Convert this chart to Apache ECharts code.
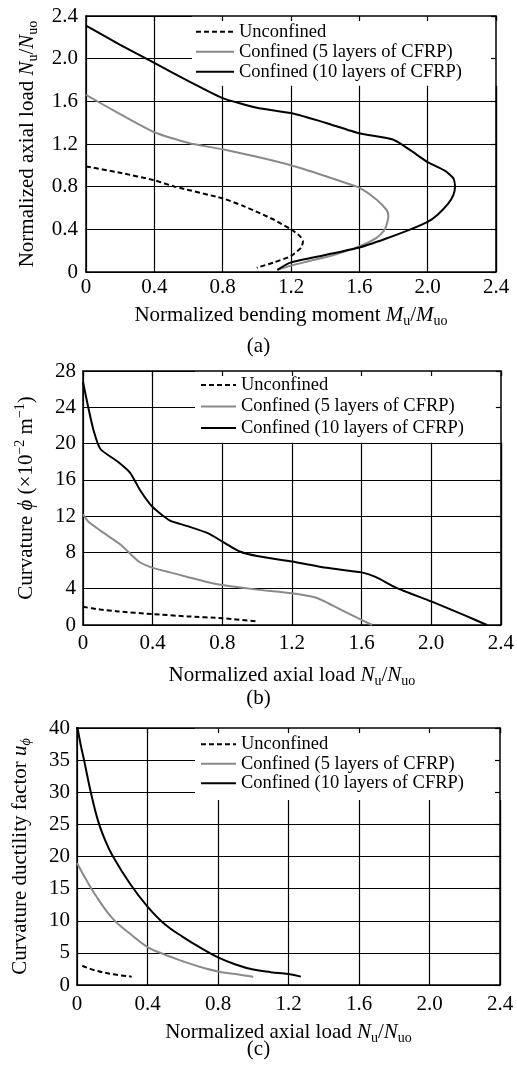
<!DOCTYPE html>
<html>
<head>
<meta charset="utf-8">
<script src="https://cdn.jsdelivr.net/npm/echarts@6/dist/echarts.min.js"></script>
<style>
html,body{margin:0;padding:0;background:#fff;}
#chart{width:517px;height:1073px;}
</style>
</head>
<body>
<div id="chart"></div>
<script>
// ---------- data ----------
const seriesNames = ['Unconfined', 'Confined (5 layers of CFRP)', 'Confined (10 layers of CFRP)'];

// (a) interaction: [M/Muo, N/Nuo]
const unconfinedA = [[0,0.99],[0.2,0.93],[0.4,0.86],[0.52,0.8],[0.8,0.69],[0.92,0.62],[1.02,0.55],[1.1,0.49],[1.2,0.4],[1.25,0.34],[1.27,0.29],[1.26,0.23],[1.2,0.15],[1.1,0.09],[1.0,0.04]];
const conf5A = [[0,1.66],[0.2,1.48],[0.4,1.31],[0.6,1.21],[0.8,1.15],[1.0,1.08],[1.2,1.0],[1.4,0.9],[1.53,0.83],[1.6,0.79],[1.7,0.68],[1.76,0.58],[1.77,0.52],[1.75,0.4],[1.7,0.32],[1.6,0.24],[1.45,0.16],[1.3,0.1],[1.2,0.06],[1.12,0.02]];
const conf10A = [[0,2.31],[0.2,2.13],[0.4,1.96],[0.6,1.79],[0.8,1.63],[1.0,1.54],[1.2,1.49],[1.4,1.4],[1.6,1.3],[1.8,1.24],[1.9,1.14],[2.0,1.03],[2.1,0.95],[2.15,0.88],[2.16,0.8],[2.15,0.72],[2.12,0.64],[2.06,0.54],[2.0,0.47],[1.9,0.4],[1.75,0.31],[1.6,0.23],[1.4,0.16],[1.2,0.09],[1.12,0.02]];

// (b) curvature: [N/Nuo, phi]
const unconfinedB = [[0,2.0],[0.1,1.7],[0.2,1.5],[0.4,1.2],[0.6,0.95],[0.8,0.75],[1.0,0.4]];
const conf5B = [[0,12.2],[0.03,11.4],[0.1,10.4],[0.22,8.8],[0.32,7.0],[0.4,6.3],[0.5,5.8],[0.6,5.3],[0.7,4.8],[0.8,4.4],[1.0,3.9],[1.2,3.5],[1.34,3.0],[1.5,1.5],[1.66,0]];
const conf10B = [[0,26.8],[0.03,24],[0.06,21.5],[0.1,19.4],[0.2,18],[0.27,16.8],[0.33,14.8],[0.4,13.0],[0.5,11.5],[0.6,10.9],[0.72,10.1],[0.8,9.2],[0.9,8.1],[1.0,7.6],[1.2,7.0],[1.4,6.3],[1.6,5.8],[1.68,5.3],[1.8,4.1],[2.0,2.6],[2.2,1.0],[2.32,0]];

// (c) ductility: [N/Nuo, u_phi]
const unconfinedC = [[0.03,3.0],[0.1,2.3],[0.2,1.7],[0.31,1.3]];
const conf5C = [[0,19],[0.05,16.5],[0.1,14.2],[0.2,10.4],[0.3,8],[0.4,5.9],[0.5,4.7],[0.6,3.7],[0.7,2.8],[0.8,2.1],[0.9,1.7],[1.0,1.3]];
const conf10C = [[0,40.5],[0.02,37.5],[0.04,35],[0.08,29.8],[0.12,25.5],[0.16,22.5],[0.2,20.2],[0.3,15.8],[0.4,12.2],[0.5,9.4],[0.6,7.5],[0.7,5.8],[0.8,4.3],[0.9,3.2],[1.0,2.4],[1.1,2.0],[1.2,1.7],[1.27,1.3]];

// tick labels
const ratioTicks = ['0','0.4','0.8','1.2','1.6','2.0','2.4'];
const phiTicks = ['0','4','8','12','16','20','24','28'];
const ductTicks = ['0','5','10','15','20','25','30','35','40'];

// ---------- styles ----------
const FONT = 'Liberation Serif';
const GRAY = '#8a8a8a';
const rich = {
  t: {fontSize: 21, fontFamily: FONT, color: '#000', lineHeight: 26},
  i: {fontSize: 21, fontFamily: FONT, color: '#000', fontStyle: 'italic', lineHeight: 26},
  s: {fontSize: 14, fontFamily: FONT, color: '#000', lineHeight: 14, verticalAlign: 'bottom'},
  si: {fontSize: 14, fontFamily: FONT, color: '#000', fontStyle: 'italic', lineHeight: 14, verticalAlign: 'bottom'},
  p: {fontSize: 14, fontFamily: FONT, color: '#000', lineHeight: 14, verticalAlign: 'top'}
};

const grids = [
  {left: 86, top: 16, width: 410, height: 256},
  {left: 83, top: 371, width: 418, height: 254},
  {left: 77, top: 728, width: 423, height: 257}
];

function mainAxis(gi, ticks, step, name, gap, margin) {
  return {
    type: 'value', gridIndex: gi, min: 0, max: step * (ticks.length - 1), interval: step,
    name: name, nameLocation: 'middle', nameGap: gap,
    nameTextStyle: {fontFamily: FONT, color: '#000', rich: rich},
    axisLine: {show: true, lineStyle: {color: '#000', width: 1.5}},
    axisTick: {show: false},
    splitLine: {show: true, lineStyle: {color: '#000', width: 1.2}},
    axisLabel: {margin: margin, color: '#000', fontFamily: FONT, fontSize: 21,
      formatter: v => ticks[Math.round(v / step)]}
  };
}
function frameAxis(gi, ticks, step, position) {
  return {
    type: 'value', gridIndex: gi, position: position, z: 6,
    min: 0, max: step * (ticks.length - 1), interval: step,
    axisLine: {show: true, onZero: false, lineStyle: {color: '#000', width: 1.5}},
    axisTick: {show: true, inside: true, length: 5, lineStyle: {color: '#000', width: 1.2}},
    splitLine: {show: false},
    axisLabel: {show: false}
  };
}

const nameM = '{t|Normalized bending moment }{i|M}{s|u}{t|/}{i|M}{s|uo}';
const nameN = '{t|Normalized axial load }{i|N}{s|u}{t|/}{i|N}{s|uo}';
const namePhi = '{t|Curvature }{i|ϕ}{t| (×10}{p|−2}{t| m}{p|−1}{t|)}';
const nameDuct = '{t|Curvature ductility factor }{i|u}{si|ϕ}';

const xAxis = [
  mainAxis(0, ratioTicks, 0.4, nameM, 30, 5),
  mainAxis(1, ratioTicks, 0.4, nameN, 37, 8),
  mainAxis(2, ratioTicks, 0.4, nameN, 34, 9),
  frameAxis(0, ratioTicks, 0.4, 'top'),
  frameAxis(1, ratioTicks, 0.4, 'top'),
  frameAxis(2, ratioTicks, 0.4, 'top')
];
const yAxis = [
  mainAxis(0, ratioTicks, 0.4, nameN, 46, 8),
  mainAxis(1, phiTicks, 4, namePhi, 44, 7),
  mainAxis(2, ductTicks, 5, nameDuct, 44, 7),
  frameAxis(0, ratioTicks, 0.4, 'right'),
  frameAxis(1, phiTicks, 4, 'right'),
  frameAxis(2, ductTicks, 5, 'right')
];

function mk(name, data, gi, kind, smooth) {
  const ls = kind === 0 ? {color: '#000', width: 2, type: [5, 3]}
           : kind === 1 ? {color: GRAY, width: 2, type: 'solid'}
           : {color: '#000', width: 2, type: 'solid'};
  return {
    type: 'line', name: name, xAxisIndex: gi, yAxisIndex: gi, data: data, z: 5,
    symbol: 'none', smooth: smooth, lineStyle: ls, itemStyle: {color: ls.color},
    emphasis: {disabled: true}
  };
}
const series = [
  mk(seriesNames[0], unconfinedA, 0, 0, 0.2),
  mk(seriesNames[1], conf5A, 0, 1, 0.2),
  mk(seriesNames[2], conf10A, 0, 2, 0.2),
  mk(seriesNames[0], unconfinedB, 1, 0, 0.2),
  mk(seriesNames[1], conf5B, 1, 1, 0.2),
  mk(seriesNames[2], conf10B, 1, 2, 0.2),
  mk(seriesNames[0], unconfinedC, 2, 0, 0.4),
  mk(seriesNames[1], conf5C, 2, 1, 0.4),
  mk(seriesNames[2], conf10C, 2, 2, 0.4)
];

function legend(left, top, rowH, padding, itemWidth) {
  return {
    data: seriesNames, orient: 'vertical', left: left, top: top,
    itemWidth: itemWidth, itemHeight: rowH, itemGap: 0,
    itemStyle: {color: 'rgba(0,0,0,0)', borderWidth: 0, opacity: 0},
    padding: padding, backgroundColor: '#fff', selectedMode: false,
    textStyle: {fontFamily: FONT, fontSize: 18.5, color: '#000', lineHeight: rowH}
  };
}

const option = {
  animation: false,
  backgroundColor: '#fff',
  textStyle: {fontFamily: FONT},
  grid: grids,
  xAxis: xAxis,
  yAxis: yAxis,
  legend: [
    legend(192, 16, 20, [5.7, 50, 4, 3], 38),
    legend(195, 371, 21.5, [3.2, 50, 4, 5], 35),
    legend(195, 728, 19.5, [6.5, 50, 7, 5], 35)
  ],
  series: series,
  graphic: [
    {type: 'text', left: 'center', top: 336, style: {text: '(a)', font: '21px "Liberation Serif"', fill: '#000'}},
    {type: 'text', left: 'center', top: 688, style: {text: '(b)', font: '21px "Liberation Serif"', fill: '#000'}},
    {type: 'text', left: 'center', top: 1039, style: {text: '(c)', font: '21px "Liberation Serif"', fill: '#000'}}
  ]
};

const chart = echarts.init(document.getElementById('chart'), null, {renderer: 'canvas'});
chart.setOption(option);
</script>
</body>
</html>
